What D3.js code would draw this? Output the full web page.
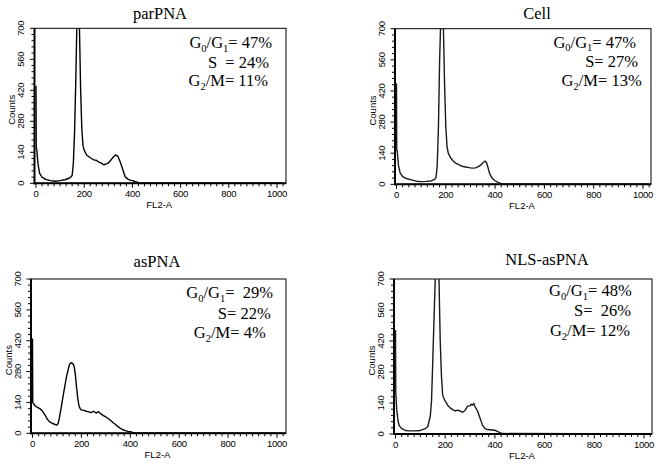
<!DOCTYPE html>
<html>
<head>
<meta charset="utf-8">
<script src="https://cdn.jsdelivr.net/npm/d3@7"></script>
<style>
  html, body { margin: 0; padding: 0; background: #fff; }
  svg { display: block; }
</style>
</head>
<body>
<svg id="chart" width="661" height="464"></svg>
<script>
// ---------------- DATA ----------------
const panelTitles = ["parPNA", "Cell", "asPNA", "NLS-asPNA"];
const xTickValues = [0, 200, 400, 600, 800, 1000];
const yTickValues = [0, 140, 280, 420, 560, 700];
const xAxisTitle = "FL2-A";
const yAxisTitle = "Counts";

// parPNA histogram (channel, counts)
const parX = [0, 1, 3, 8, 15, 25, 40, 60, 80, 100, 120, 140, 150, 155, 160, 165, 170, 175, 180, 185, 190, 195, 200, 210, 220, 230, 240, 250, 260, 270, 280, 290, 300, 310, 320, 330, 340, 350, 360, 370, 380, 390, 400, 410, 420, 430, 440, 460, 1020];
const parY = [440, 160, 155, 90, 45, 28, 18, 12, 9, 12, 16, 24, 35, 90, 230, 460, 740, 760, 720, 430, 250, 170, 150, 128, 120, 112, 106, 104, 96, 92, 84, 86, 92, 104, 118, 128, 122, 95, 62, 30, 20, 14, 12, 8, 5, 2, 1, 0, 0];

// Cell histogram
const cellX = [0, 1, 3, 8, 15, 25, 40, 60, 80, 100, 120, 140, 155, 160, 165, 170, 175, 180, 185, 190, 195, 200, 205, 210, 220, 230, 240, 250, 260, 270, 280, 290, 300, 310, 320, 330, 340, 350, 355, 360, 365, 370, 375, 380, 390, 400, 410, 420, 430, 450, 1020];
const cellY = [454, 155, 150, 85, 50, 35, 26, 20, 14, 12, 13, 15, 22, 30, 80, 250, 560, 760, 760, 720, 450, 260, 170, 140, 118, 105, 95, 90, 84, 80, 78, 76, 74, 73, 74, 78, 85, 96, 102, 104, 98, 80, 60, 42, 25, 16, 10, 5, 2, 0, 0];

// asPNA histogram
const asX = [0, 1, 10, 20, 30, 40, 50, 60, 70, 80, 90, 100, 105, 110, 120, 130, 140, 150, 155, 160, 165, 170, 175, 180, 185, 190, 195, 200, 210, 220, 230, 240, 250, 260, 270, 280, 290, 300, 310, 320, 330, 340, 350, 360, 370, 380, 390, 400, 410, 420, 430, 1020];
const asY = [430, 140, 125, 118, 112, 102, 85, 65, 52, 46, 41, 37, 45, 70, 135, 200, 262, 308, 318, 320, 316, 305, 270, 210, 160, 125, 112, 106, 104, 100, 97, 94, 100, 92, 98, 88, 80, 74, 66, 58, 48, 40, 30, 22, 16, 12, 9, 7, 4, 2, 0, 0];

// NLS-asPNA histogram
const nlsX = [0, 1, 5, 10, 15, 25, 40, 60, 80, 100, 120, 130, 140, 145, 150, 155, 160, 165, 170, 175, 180, 185, 190, 195, 200, 210, 220, 230, 240, 250, 260, 270, 280, 290, 300, 305, 310, 315, 320, 330, 340, 350, 360, 370, 380, 390, 400, 410, 420, 430, 1020];
const nlsY = [470, 190, 110, 60, 38, 24, 16, 14, 14, 16, 24, 34, 80, 150, 330, 520, 700, 760, 760, 700, 420, 260, 175, 160, 148, 130, 118, 110, 104, 108, 104, 98, 106, 126, 128, 134, 130, 138, 124, 104, 72, 40, 24, 20, 19, 18, 17, 12, 6, 2, 0];

// Cell-cycle annotations
const g1Values = [" 47%", " 47%", "  29%", " 48%"];
const sValues  = ["S  = 24%", "S= 27%", "S= 22%", "S=  26%"];
const g2Values = [" 11%", " 13%", " 4%", " 12%"];

const seriesX = [parX, cellX, asX, nlsX];
const seriesY = [parY, cellY, asY, nlsY];

// ---------------- LAYOUT ----------------
const frames = [
  { L: 34.5, T: 28.3, R: 286, B: 183.3, x0: 36,  x1: 277, title: [160, 19],  ann: [[272, 48], [269, 67.5], [268, 86]] },
  { L: 395,  T: 28.7, R: 651, B: 184.3, x0: 396.5, x1: 643, title: [537, 18.5], ann: [[636, 47.5], [638, 67], [641.7, 86]] },
  { L: 31,   T: 279,  R: 286, B: 433.3, x0: 32.5, x1: 277, title: [157, 266.5], ann: [[273, 298.3], [270.7, 319.3], [265.7, 338.3]] },
  { L: 394,  T: 279,  R: 652, B: 434,   x0: 395.5, x1: 644, title: [547, 265],  ann: [[631.7, 296], [631, 316], [630, 336]] }
];

const svg = d3.select("#chart");
const sansFont = "'Liberation Sans', Arial, sans-serif";
const serifFont = "'Liberation Serif', 'Times New Roman', serif";

frames.forEach((f, i) => {
  const g = svg.append("g");
  const x = d3.scaleLinear().domain([0, 1000]).range([f.x0, f.x1]);
  const y = d3.scaleLinear().domain([0, 700]).range([f.B, f.T]);

  // clip path
  const cid = "clip" + i;
  svg.append("clipPath").attr("id", cid)
    .append("rect").attr("x", f.L).attr("y", f.T).attr("width", f.R - f.L).attr("height", f.B - f.T);

  // frame (top & right thin)
  g.append("rect").attr("x", f.L).attr("y", f.T).attr("width", f.R - f.L).attr("height", f.B - f.T)
    .attr("fill", "none").attr("stroke", "#000").attr("stroke-width", 1);

  // histogram line
  const pts = seriesX[i].map((xv, k) => [xv, seriesY[i][k]]);
  const line = d3.line().x(d => x(d[0])).y(d => y(d[1]));
  g.append("path").datum(pts)
    .attr("clip-path", `url(#${cid})`)
    .attr("d", line)
    .attr("fill", "none")
    .attr("stroke", i % 2 === 1 ? "#1a1a1a" : "#000")
    .attr("stroke-width", 1.4)
    .attr("stroke-linejoin", "round");

  // thick left & bottom axis lines
  g.append("line").attr("x1", f.L).attr("x2", f.L).attr("y1", f.T).attr("y2", f.B + 1)
    .attr("stroke", "#000").attr("stroke-width", 2);
  g.append("line").attr("x1", f.L - 1).attr("x2", f.R).attr("y1", f.B).attr("y2", f.B)
    .attr("stroke", "#000").attr("stroke-width", 2);

  // x ticks (major + minor)
  const xMinor = d3.range(0, 1026, 25).filter(v => x(v) <= f.R - 1);
  g.selectAll(".xminor").data(xMinor).enter().append("line")
    .attr("x1", d => x(d)).attr("x2", d => x(d))
    .attr("y1", f.B).attr("y2", d => f.B + (xTickValues.includes(d) ? 4.5 : 3))
    .attr("stroke", "#000").attr("stroke-width", 1);
  g.selectAll(".xlab").data(xTickValues).enter().append("text")
    .attr("x", d => x(d)).attr("y", f.B + 14)
    .attr("text-anchor", "middle")
    .attr("font-family", sansFont).attr("font-size", 9.5)
    .attr("letter-spacing", -0.3)
    .text(d => d);

  // y ticks (major + minor)
  const yMinor = d3.range(0, 701, 28);
  g.selectAll(".yminor").data(yMinor).enter().append("line")
    .attr("x1", f.L).attr("x2", d => f.L - (yTickValues.includes(d) ? 4.5 : 3))
    .attr("y1", d => y(d)).attr("y2", d => y(d))
    .attr("stroke", "#000").attr("stroke-width", 1);
  g.selectAll(".ylab").data(yTickValues).enter().append("text")
    .attr("transform", d => `translate(${f.L - 10.5},${y(d)}) rotate(-90)`)
    .attr("text-anchor", "middle")
    .attr("font-family", sansFont).attr("font-size", 9.5)
    .attr("letter-spacing", -0.3)
    .text(d => d);

  // axis titles
  g.append("text")
    .attr("x", (f.L + f.R) / 2 - 1).attr("y", f.B + 25)
    .attr("text-anchor", "middle")
    .attr("font-family", sansFont).attr("font-size", 9.5)
    .text(xAxisTitle);
  g.append("text")
    .attr("transform", `translate(${f.L - 19.5},${(f.T + f.B) / 2 + 4}) rotate(-90)`)
    .attr("text-anchor", "middle")
    .attr("font-family", sansFont).attr("font-size", 9.5)
    .text(yAxisTitle);

  // panel title
  g.append("text")
    .attr("x", f.title[0]).attr("y", f.title[1])
    .attr("text-anchor", "middle")
    .attr("font-family", serifFont).attr("font-size", 16.5)
    .text(panelTitles[i]);

  // annotations
  const annFont = 16.5, subFont = 10.5, sub = 3.5;
  const t1 = g.append("text").attr("x", f.ann[0][0]).attr("y", f.ann[0][1])
    .attr("text-anchor", "end").attr("font-family", serifFont).attr("font-size", annFont)
    .style("white-space", "pre");
  t1.append("tspan").text("G");
  t1.append("tspan").attr("font-size", subFont).attr("dy", sub).text("0");
  t1.append("tspan").attr("dy", -sub).text("/G");
  t1.append("tspan").attr("font-size", subFont).attr("dy", sub).text("1");
  t1.append("tspan").attr("dy", -sub).text("=" + g1Values[i]);

  g.append("text").attr("x", f.ann[1][0]).attr("y", f.ann[1][1])
    .attr("text-anchor", "end").attr("font-family", serifFont).attr("font-size", annFont)
    .style("white-space", "pre")
    .text(sValues[i]);

  const t3 = g.append("text").attr("x", f.ann[2][0]).attr("y", f.ann[2][1])
    .attr("text-anchor", "end").attr("font-family", serifFont).attr("font-size", annFont)
    .style("white-space", "pre");
  t3.append("tspan").text("G");
  t3.append("tspan").attr("font-size", subFont).attr("dy", sub).text("2");
  t3.append("tspan").attr("dy", -sub).text("/M=" + g2Values[i]);
});
</script>
</body>
</html>
